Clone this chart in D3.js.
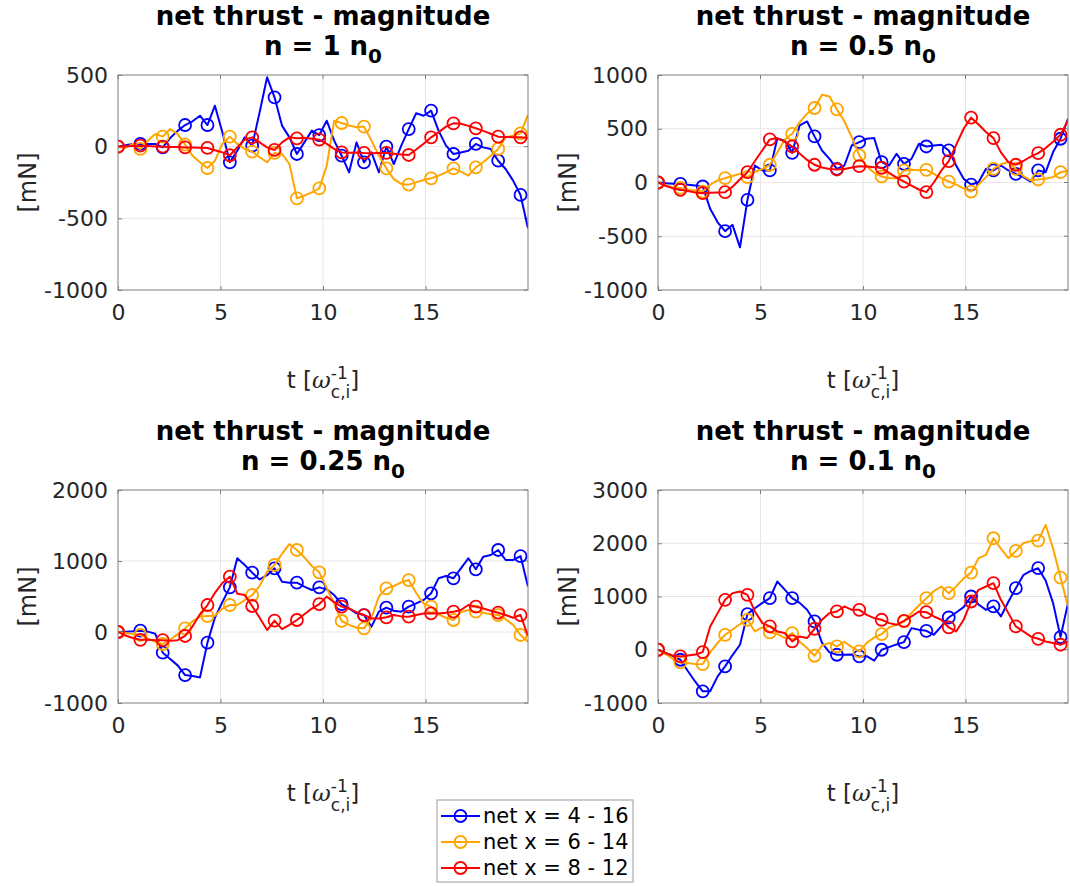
<!DOCTYPE html>
<html><head><meta charset="utf-8">
<script src="https://cdn.jsdelivr.net/npm/d3@7"></script>
<style>body{margin:0;background:#fff} svg{display:block}</style>
</head><body>
<svg id="chart" width="1070" height="886"></svg>
<script>
// ---------- data ----------
const time = [0, 0.364, 0.727, 1.091, 1.455, 1.818, 2.182, 2.545, 2.909, 3.273, 3.636, 4, 4.364, 4.727,
  5.091, 5.455, 5.818, 6.182, 6.545, 6.909, 7.273, 7.636, 8, 8.364, 8.727, 9.091, 9.455, 9.818,
  10.182, 10.545, 10.909, 11.273, 11.636, 12, 12.364, 12.727, 13.091, 13.455, 13.818, 14.182,
  14.545, 14.909, 15.273, 15.636, 16, 16.364, 16.727, 17.091, 17.455, 17.818, 18.182, 18.545,
  18.909, 19.273, 19.636, 20];
const xTicks = [0, 5, 10, 15];
const seriesNames = ["net x = 4 - 16", "net x = 6 - 14", "net x = 8 - 12"];
const seriesColors = ["#0000ff", "#ffa500", "#ff0000"];
const densityLabels = ["1", "0.5", "0.25", "0.1"];

// panel 1 : n = 1 n0
const yTicks1 = [-1000, -500, 0, 500];
const blue1 = [0,10,19,19,19,19,-5,60,110,151, 177,216,151,286,100,-109,-28,65,7,240,
  484,344,147,65,-51,30,112,81,181,42, -63,-179,30,-109,-40,-179,0,-121,7,123,
  233,216,251,112,7,-51,-40,-28,19,-5, -16,-98,-156,-237,-337,-570];
const orange1 = [0,-9,19,-16,42,88,70,123,88,14, -63,-109,-149,-98,19,70,19,-16,-35,-74,
  -109,-44,-51,-121,-361,-342,-319,-291,-133,181, 165,147,135,140,42,-63,-151,-226,-260,-265,
  -249,-233,-221,-202,-179,-151,-174,-202,-144,-109, -63,-16,65,77,93,221];
const red1 = [0,3,5,7,5,2,0,-2,-3,-5, -6,-8,-9,-25,-40,-60,-5,50,65,30,
  -5,-23,30,65,58,62,55,49,20,-15, -40,-42,-40,-44,-46,-44,-44,-50,-55,-58,
  -20,20,65,100,140,163,160,145,128,110, 90,70,68,66,65,60];

// panel 2 : n = 0.5 n0
const yTicks2 = [-1000, -500, 0, 500, 1000];
const blue2 = [0,-6,-12,-12,-22,-28,-37,-245,-370,-453, -394,-603,-162,158,112,112,407,391,276,531,
  568,429,298,220,127,158,345,376,407,413, 189,158,267,174,220,360,335,345,351,298,
  158,34,-19,3,127,112,158,112,81,50, 9,112,96,283,407,593];
const orange2 = [0,-25,-45,-50,-65,-75,-84,-20,20,40, 60,80,50,100,125,165,280,400,453,560,
  640,693,817,800,680,570,420,252,150,90, 56,40,40,112,118,115,118,80,40,9,
  -20,-55,-84,-20,50,127,170,190,127,60, 20,28,35,50,96,110];
const red2 = [0,-30,-55,-68,-80,-92,-99,-95,-92,-90, -40,30,96,200,300,401,413,380,335,270,
  210,165,140,125,121,125,140,152,148,142, 137,90,45,9,-30,-65,-90,0,110,199,
  350,500,603,540,470,413,280,190,165,200, 240,273,320,380,444,578];

// panel 3 : n = 0.25 n0
const yTicks3 = [-1000, 0, 1000, 2000];
const blue3 = [0,5,10,19,5,-25,-291,-380,-470,-606, -620,-640,-150,200,420,629,1038,944,836,740,
  800,897,709,695,695,638,592,629,600,520, 394,333,263,239,75,286,343,300,286,357,
  404,451,545,756,789,756,897,1038,883,1061, 1085,1155,1014,1014,1070,639];
const orange3 = [0,-15,-30,-42,-90,-140,-169,-110,-30,52, 150,220,225,230,330,380,380,450,521,650,
  850,944,1100,1240,1155,1050,930,840,620,400, 155,100,60,52,200,500,615,650,700,732,
  550,400,357,250,200,169,280,310,286,270, 250,239,180,100,-42,-136];
const red3 = [0,-50,-85,-110,-110,-115,-115,-125,-115,-56, 80,250,380,550,690,779,540,520,366,200,
  28,160,40,100,169,250,330,394,498,420, 357,330,280,239,190,190,207,240,220,216,
  240,260,263,260,270,286,310,380,357,330, 300,272,240,200,239,-56];

// panel 4 : n = 0.1 n0
const yTicks4 = [-1000, 0, 1000, 2000, 3000];
const blue4 = [0,-60,-120,-188,-400,-600,-781,-780,-500,-313, -100,94,669,780,880,969,1281,1130,969,880,
  750,531,130,-50,-94,-94,-90,-125,-120,-206, 0,50,100,144,406,375,356,281,438,606,
  700,800,1000,850,750,813,625,900,1156,1400, 1480,1531,1300,875,238,875];
const orange4 = [0,-80,-170,-238,-250,-270,-269,-50,130,281, 380,480,563,344,420,325,300,220,313,150,
  31,-113,80,130,63,150,50,-31,130,230, 294,420,470,531,690,830,969,1100,1188,1063,
  1190,1340,1450,1720,1781,2094,1900,1719,1856,2000, 2040,2050,2344,1900,1356,813];
const red4 = [0,-60,-110,-125,-110,-90,-44,438,688,938, 1063,1094,1031,719,500,438,344,313,156,250,
  219,394,563,688,719,813,750,750,656,594, 563,500,469,544,625,719,706,625,563,419,
  344,563,906,1125,1188,1250,938,688,438,344, 250,206,156,125,94,156];

// ---------- layout ----------
const panelData = [
  {series: [blue1, orange1, red1], yTicks: yTicks1, n: densityLabels[0], left: 118, top: 75, w: 410, h: 215},
  {series: [blue2, orange2, red2], yTicks: yTicks2, n: densityLabels[1], left: 658, top: 75, w: 410, h: 215},
  {series: [blue3, orange3, red3], yTicks: yTicks3, n: densityLabels[2], left: 118, top: 490, w: 410, h: 213},
  {series: [blue4, orange4, red4], yTicks: yTicks4, n: densityLabels[3], left: 658, top: 490, w: 410, h: 213}
];

const svg = d3.select("#chart");
const FONT = "'DejaVu Sans', sans-serif";
const TXT = "#262626";
const plainFmt = d => String(d);

panelData.forEach((p, pi) => {
  const g = svg.append("g").attr("transform", `translate(${p.left},${p.top})`);
  const x = d3.scaleLinear().domain([0, d3.max(time)]).range([0, p.w]);
  const y = d3.scaleLinear().domain(d3.extent(p.yTicks)).range([p.h, 0]);

  // grid
  g.append("g").selectAll("line").data(xTicks.filter(d => d > 0)).join("line")
    .attr("x1", d => x(d)).attr("x2", d => x(d)).attr("y1", 0).attr("y2", p.h)
    .attr("stroke", "#e6e6e6").attr("stroke-width", 1);
  g.append("g").selectAll("line").data(p.yTicks.slice(1, -1)).join("line")
    .attr("y1", d => y(d)).attr("y2", d => y(d)).attr("x1", 0).attr("x2", p.w)
    .attr("stroke", "#e6e6e6").attr("stroke-width", 1);

  // axes via d3
  const xAxis = g.append("g").attr("transform", `translate(0,${p.h})`)
    .call(d3.axisBottom(x).tickValues(xTicks).tickSize(-4).tickPadding(10).tickFormat(plainFmt));
  const yAxis = g.append("g")
    .call(d3.axisLeft(y).tickValues(p.yTicks).tickSize(-4).tickPadding(10).tickFormat(plainFmt));
  [xAxis, yAxis].forEach(a => {
    a.select(".domain").remove();
    a.selectAll(".tick line").attr("stroke", "#7f7f7f");
    a.selectAll(".tick text").attr("fill", TXT).style("font-family", FONT).style("font-size", "22px");
  });
  xAxis.selectAll(".tick text").attr("dy", "0.9em");
  // top/right inner ticks
  g.append("g").selectAll("line").data(xTicks).join("line")
    .attr("x1", d => x(d)).attr("x2", d => x(d)).attr("y1", 0).attr("y2", 4).attr("stroke", "#7f7f7f");
  g.append("g").selectAll("line").data(p.yTicks).join("line")
    .attr("y1", d => y(d)).attr("y2", d => y(d)).attr("x1", p.w).attr("x2", p.w - 4).attr("stroke", "#7f7f7f");

  // clip
  const cid = "clip" + pi;
  g.append("clipPath").attr("id", cid).append("rect").attr("width", p.w).attr("height", p.h);
  const plot = g.append("g").attr("clip-path", `url(#${cid})`);

  const line = d3.line().x((d, i) => x(time[i])).y(d => y(d));
  p.series.forEach((vals, si) => {
    plot.append("path").datum(vals).attr("d", line)
      .attr("fill", "none").attr("stroke", seriesColors[si]).attr("stroke-width", 2)
      .attr("stroke-linejoin", "round");
    plot.append("g").selectAll("circle")
      .data(vals.map((v, i) => ({v, i})).filter(d => d.i % 3 === 0))
      .join("circle")
      .attr("cx", d => x(time[d.i])).attr("cy", d => y(d.v)).attr("r", 6)
      .attr("fill", "none").attr("stroke", seriesColors[si]).attr("stroke-width", 1.8);
  });

  // box
  g.append("rect").attr("width", p.w).attr("height", p.h)
    .attr("fill", "none").attr("stroke", "#7f7f7f").attr("stroke-width", 1);

  // title
  const cx = p.w / 2;
  g.append("text").attr("x", cx).attr("y", -50).attr("text-anchor", "middle")
    .style("font-family", FONT).style("font-size", "26px").style("font-weight", "bold")
    .attr("fill", "#000").text("net thrust - magnitude");
  const t2 = g.append("text").attr("x", cx).attr("y", -20).attr("text-anchor", "middle")
    .style("font-family", FONT).style("font-size", "26px").style("font-weight", "bold").attr("fill", "#000");
  t2.append("tspan").text(`n = ${p.n} n`);
  t2.append("tspan").attr("dy", 8).style("font-size", "20px").text("0");

  // x label
  const xl = g.append("text").attr("x", cx).attr("y", p.h + 98).attr("text-anchor", "middle")
    .style("font-family", FONT).style("font-size", "23px").attr("fill", TXT);
  xl.append("tspan").text("t [");
  xl.append("tspan").style("font-family", "'DejaVu Serif', serif").style("font-style", "italic").text("ω");
  const sup = xl.append("tspan").attr("dy", -9).style("font-size", "17px").text("-1");
  const supLen = sup.node().getComputedTextLength();
  xl.append("tspan").attr("dx", -supLen).attr("dy", 19).style("font-size", "17px").text("c,i");
  xl.append("tspan").attr("dy", -10).text("]");

  // y label
  g.append("text").attr("transform", `translate(-82,${p.h / 2}) rotate(-90)`)
    .attr("text-anchor", "middle").style("font-family", FONT).style("font-size", "24px")
    .attr("fill", TXT).text("[mN]");
});

// legend
const lg = svg.append("g").attr("transform", "translate(437,800)");
lg.append("rect").attr("width", 196).attr("height", 82).attr("fill", "#fff")
  .attr("stroke", "#999").attr("stroke-width", 1);
seriesNames.forEach((name, i) => {
  const yy = 16 + i * 26;
  lg.append("line").attr("x1", 4).attr("x2", 43).attr("y1", yy).attr("y2", yy)
    .attr("stroke", seriesColors[i]).attr("stroke-width", 2);
  lg.append("circle").attr("cx", 23.5).attr("cy", yy).attr("r", 6)
    .attr("fill", "none").attr("stroke", seriesColors[i]).attr("stroke-width", 1.8);
  lg.append("text").attr("x", 46).attr("y", yy).attr("dy", "0.35em")
    .style("font-family", FONT).style("font-size", "21px").attr("fill", "#000").text(name);
});
</script>
</body></html>
